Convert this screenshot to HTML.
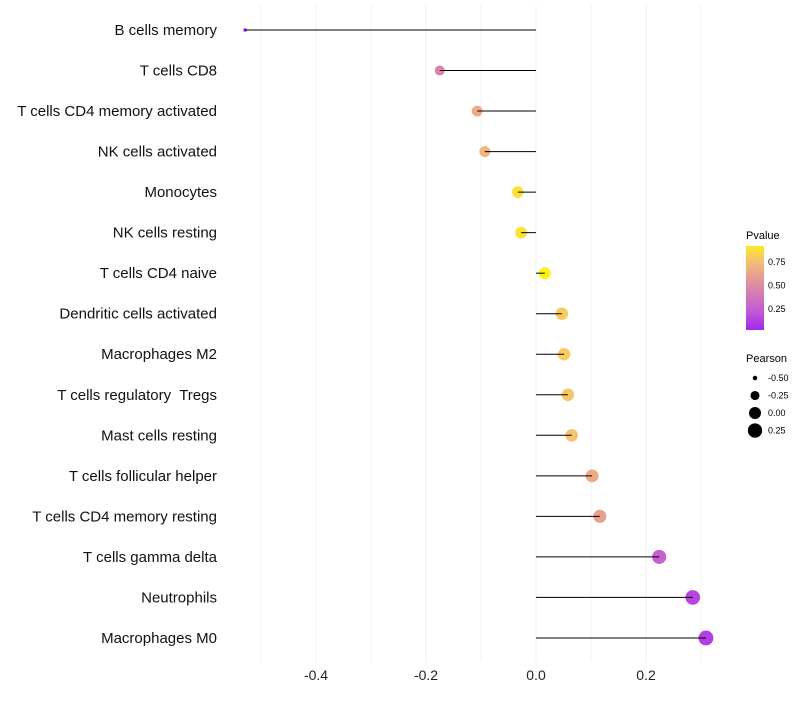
<!DOCTYPE html>
<html><head><meta charset="utf-8"><style>
body{margin:0;background:#fff;font-family:"Liberation Sans",sans-serif;}
</style></head><body>
<svg id="chart" width="800" height="700" xmlns="http://www.w3.org/2000/svg"></svg>
<script>
const categories=["B cells memory","T cells CD8","T cells CD4 memory activated","NK cells activated","Monocytes","NK cells resting","T cells CD4 naive","Dendritic cells activated","Macrophages M2","T cells regulatory  Tregs","Mast cells resting","T cells follicular helper","T cells CD4 memory resting","T cells gamma delta","Neutrophils","Macrophages M0"];
const pearson=[-0.529,-0.175,-0.107,-0.093,-0.033,-0.027,0.016,0.047,0.051,0.058,0.065,0.102,0.116,0.224,0.285,0.309];
const pvalues=[0.02,0.45,0.66,0.70,0.88,0.89,0.95,0.80,0.80,0.78,0.77,0.66,0.60,0.25,0.15,0.12];
const xTicks=[-0.4,-0.2,0.0,0.2];
const pTicks=[0.25,0.50,0.75];
const sizeTicks=[-0.5,-0.25,0.0,0.25];

const NS="http://www.w3.org/2000/svg";
const svg=document.getElementById('chart');
const x=v=>536+v*550;
const y=i=>30+i*40.53;
const r=v=>Math.sqrt(Math.max(2,5+(v+0.5)*62));
const stops=[[0,[160,32,240]],[0.25,[196,96,208]],[0.5,[222,138,165]],[0.75,[245,190,118]],[1,[255,255,0]]];
function col(p){for(let k=1;k<stops.length;k++){if(p<=stops[k][0]){const a=stops[k-1],b=stops[k];const t=(p-a[0])/(b[0]-a[0]);return 'rgb('+a[1].map((c,j)=>Math.round(c+(b[1][j]-c)*t)).join(',')+')';}}return 'rgb(255,255,0)';}
function el(t,a,name){const e=document.createElementNS(NS,t);for(const k in a)e.setAttribute(k,a[k]);


svg.appendChild(e);return e;}
for(let v=-0.5;v<=0.301;v+=0.1){el('line',{x1:x(v),x2:x(v),y1:5,y2:662,stroke:'#f0f0f0','stroke-width':1},'grid-line');}
xTicks.forEach(v=>{const t=el('text',{x:x(v),y:680,'font-size':14,'text-anchor':'middle',fill:'#222'},'x-tick-label');t.textContent=v.toFixed(1);});
categories.forEach((c,i)=>{
 const t=el('text',{x:217,y:y(i)+5,'font-size':15,'text-anchor':'end',fill:'#111','xml:space':'preserve',style:'white-space:pre'},'y-label');t.textContent=c;
 el('circle',{cx:x(pearson[i]),cy:y(i),r:r(pearson[i]),fill:col(pvalues[i])},'point');
 el('line',{x1:x(0),x2:x(pearson[i]),y1:y(i),y2:y(i),stroke:'#000','stroke-width':1},'segment');
});
let t=el('text',{x:746,y:239,'font-size':11},'pvalue-legend-title');t.textContent='Pvalue';
const defs=document.createElementNS(NS,'defs');svg.appendChild(defs);
const g=document.createElementNS(NS,'linearGradient');g.setAttribute('id','gr');g.setAttribute('x1',0);g.setAttribute('y1',1);g.setAttribute('x2',0);g.setAttribute('y2',0);defs.appendChild(g);
for(let k=0;k<=10;k++){const p=0.03+k*0.089;const s=document.createElementNS(NS,'stop');s.setAttribute('offset',k/10);s.setAttribute('stop-color',col(p));g.appendChild(s);}
el('rect',{x:746,y:246,width:18,height:84,fill:'url(#gr)'},'color-bar');
pTicks.forEach(p=>{const yy=330-(p-0.03)/0.89*84;t=el('text',{x:768,y:yy+3,'font-size':9},'color-tick');t.textContent=p.toFixed(2);});
t=el('text',{x:746,y:362,'font-size':11},'pearson-legend-title');t.textContent='Pearson';
sizeTicks.forEach((v,k)=>{const yy=378+k*17.5;el('circle',{cx:755,cy:yy,r:r(v),fill:'#000'},'size-legend-dot');t=el('text',{x:768,y:yy+3,'font-size':9},'size-legend-label');t.textContent=v.toFixed(2);});
</script>
</body></html>
